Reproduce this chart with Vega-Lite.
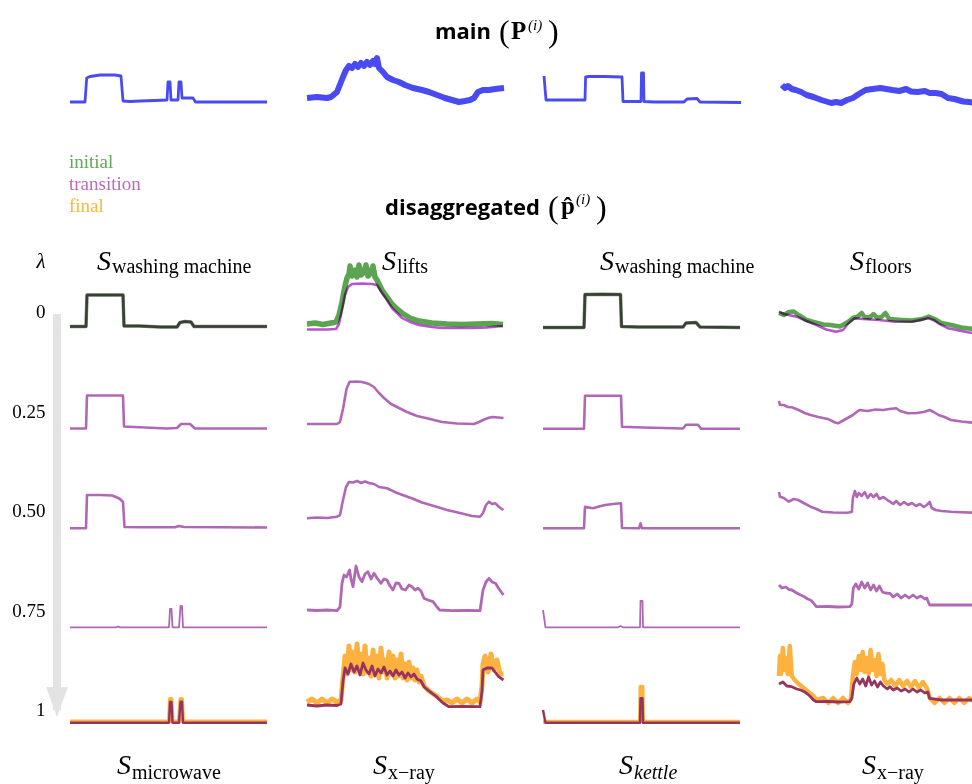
{
"$schema":"https://vega.github.io/schema/vega-lite/v6.json",
"padding":0,
"background":"white",
"spacing":0,
"config":{"view":{"stroke":null},"text":{"color":"black"}},
"datasets":{"lines":[
{"col":1,"s":"main","t":0,"v":8},{"col":1,"s":"main","t":15,"v":8},{"col":1,"s":"main","t":16.7,"v":32},{"col":1,"s":"main","t":20,"v":33.5},{"col":1,"s":"main","t":30,"v":35},{"col":1,"s":"main","t":45,"v":35},{"col":1,"s":"main","t":51,"v":34},{"col":1,"s":"main","t":53,"v":9},{"col":1,"s":"main","t":60,"v":8.5},{"col":1,"s":"main","t":70,"v":9},{"col":1,"s":"main","t":85,"v":9.5},{"col":1,"s":"main","t":97,"v":10},{"col":1,"s":"main","t":98,"v":28},{"col":1,"s":"main","t":100,"v":28},{"col":1,"s":"main","t":101,"v":10},{"col":1,"s":"main","t":108,"v":10},{"col":1,"s":"main","t":109,"v":28},{"col":1,"s":"main","t":111,"v":28},{"col":1,"s":"main","t":112,"v":12},{"col":1,"s":"main","t":123,"v":12},{"col":1,"s":"main","t":125.5,"v":8},{"col":1,"s":"main","t":197,"v":8},
{"col":2,"s":"main","t":0,"v":12},{"col":2,"s":"main","t":10,"v":13},{"col":2,"s":"main","t":20,"v":12},{"col":2,"s":"main","t":24,"v":13},{"col":2,"s":"main","t":30,"v":18},{"col":2,"s":"main","t":36,"v":33},{"col":2,"s":"main","t":39,"v":40},{"col":2,"s":"main","t":42,"v":44},{"col":2,"s":"main","t":45,"v":42},{"col":2,"s":"main","t":48,"v":46},{"col":2,"s":"main","t":51,"v":43},{"col":2,"s":"main","t":54,"v":47},{"col":2,"s":"main","t":57,"v":44},{"col":2,"s":"main","t":60,"v":48},{"col":2,"s":"main","t":63,"v":45},{"col":2,"s":"main","t":66,"v":49},{"col":2,"s":"main","t":68,"v":46},{"col":2,"s":"main","t":70,"v":52},{"col":2,"s":"main","t":72,"v":42},{"col":2,"s":"main","t":76,"v":38},{"col":2,"s":"main","t":80,"v":33},{"col":2,"s":"main","t":86,"v":30},{"col":2,"s":"main","t":92,"v":28},{"col":2,"s":"main","t":98,"v":25},{"col":2,"s":"main","t":106,"v":22},{"col":2,"s":"main","t":115,"v":20},{"col":2,"s":"main","t":122,"v":18},{"col":2,"s":"main","t":130,"v":15},{"col":2,"s":"main","t":138,"v":12},{"col":2,"s":"main","t":145,"v":10},{"col":2,"s":"main","t":152,"v":8},{"col":2,"s":"main","t":158,"v":9},{"col":2,"s":"main","t":163,"v":10},{"col":2,"s":"main","t":167,"v":12},{"col":2,"s":"main","t":171,"v":18},{"col":2,"s":"main","t":176,"v":20},{"col":2,"s":"main","t":182,"v":20},{"col":2,"s":"main","t":188,"v":21},{"col":2,"s":"main","t":197,"v":22},
{"col":3,"s":"main","t":0,"v":34},{"col":3,"s":"main","t":2,"v":10},{"col":3,"s":"main","t":8,"v":10},{"col":3,"s":"main","t":20,"v":10},{"col":3,"s":"main","t":41,"v":10},{"col":3,"s":"main","t":41.6,"v":33},{"col":3,"s":"main","t":45,"v":33.5},{"col":3,"s":"main","t":60,"v":33.5},{"col":3,"s":"main","t":78,"v":33},{"col":3,"s":"main","t":79,"v":8.5},{"col":3,"s":"main","t":85,"v":8.5},{"col":3,"s":"main","t":97,"v":8.5},{"col":3,"s":"main","t":97.5,"v":37},{"col":3,"s":"main","t":99.5,"v":37},{"col":3,"s":"main","t":100,"v":8.5},{"col":3,"s":"main","t":110,"v":8},{"col":3,"s":"main","t":140,"v":8},{"col":3,"s":"main","t":143,"v":11},{"col":3,"s":"main","t":153,"v":11.5},{"col":3,"s":"main","t":156,"v":8},{"col":3,"s":"main","t":197,"v":7.5},
{"col":4,"s":"main","t":0,"v":25},{"col":4,"s":"main","t":3,"v":22},{"col":4,"s":"main","t":6,"v":24},{"col":4,"s":"main","t":10,"v":21},{"col":4,"s":"main","t":14,"v":20},{"col":4,"s":"main","t":19.5,"v":18},{"col":4,"s":"main","t":25,"v":15},{"col":4,"s":"main","t":32,"v":13},{"col":4,"s":"main","t":40,"v":10},{"col":4,"s":"main","t":45,"v":8.5},{"col":4,"s":"main","t":50,"v":7},{"col":4,"s":"main","t":55,"v":8},{"col":4,"s":"main","t":60,"v":7},{"col":4,"s":"main","t":66,"v":10},{"col":4,"s":"main","t":72,"v":12},{"col":4,"s":"main","t":78,"v":16},{"col":4,"s":"main","t":85,"v":20},{"col":4,"s":"main","t":92,"v":21},{"col":4,"s":"main","t":100,"v":22},{"col":4,"s":"main","t":106,"v":21},{"col":4,"s":"main","t":112,"v":20},{"col":4,"s":"main","t":119,"v":19},{"col":4,"s":"main","t":126,"v":21},{"col":4,"s":"main","t":131,"v":18.5},{"col":4,"s":"main","t":137.5,"v":18},{"col":4,"s":"main","t":145,"v":19},{"col":4,"s":"main","t":150,"v":17},{"col":4,"s":"main","t":156,"v":17},{"col":4,"s":"main","t":162,"v":16},{"col":4,"s":"main","t":168.5,"v":12},{"col":4,"s":"main","t":175,"v":11},{"col":4,"s":"main","t":184,"v":8.5},{"col":4,"s":"main","t":190,"v":8},{"col":4,"s":"main","t":197,"v":7},

{"col":1,"lam":0,"s":"initial","t":0,"v":13.5},{"col":1,"lam":0,"s":"initial","t":16,"v":13.5},{"col":1,"lam":0,"s":"initial","t":17,"v":45},{"col":1,"lam":0,"s":"initial","t":30,"v":45},{"col":1,"lam":0,"s":"initial","t":53,"v":45},{"col":1,"lam":0,"s":"initial","t":54,"v":14},{"col":1,"lam":0,"s":"initial","t":70,"v":14},{"col":1,"lam":0,"s":"initial","t":90,"v":13},{"col":1,"lam":0,"s":"initial","t":107,"v":13},{"col":1,"lam":0,"s":"initial","t":110,"v":17.5},{"col":1,"lam":0,"s":"initial","t":115,"v":18.5},{"col":1,"lam":0,"s":"initial","t":121,"v":18},{"col":1,"lam":0,"s":"initial","t":124,"v":13.5},{"col":1,"lam":0,"s":"initial","t":197,"v":13.5},
{"col":1,"lam":0,"s":"transition","t":0,"v":13.5},{"col":1,"lam":0,"s":"transition","t":16,"v":13.5},{"col":1,"lam":0,"s":"transition","t":17,"v":45},{"col":1,"lam":0,"s":"transition","t":30,"v":45},{"col":1,"lam":0,"s":"transition","t":53,"v":45},{"col":1,"lam":0,"s":"transition","t":54,"v":14},{"col":1,"lam":0,"s":"transition","t":70,"v":14},{"col":1,"lam":0,"s":"transition","t":90,"v":13},{"col":1,"lam":0,"s":"transition","t":107,"v":13},{"col":1,"lam":0,"s":"transition","t":110,"v":17.5},{"col":1,"lam":0,"s":"transition","t":115,"v":18.5},{"col":1,"lam":0,"s":"transition","t":121,"v":18},{"col":1,"lam":0,"s":"transition","t":124,"v":13.5},{"col":1,"lam":0,"s":"transition","t":197,"v":13.5},
{"col":1,"lam":0.25,"s":"transition","t":0,"v":10.5},{"col":1,"lam":0.25,"s":"transition","t":16,"v":10.5},{"col":1,"lam":0.25,"s":"transition","t":17,"v":43.5},{"col":1,"lam":0.25,"s":"transition","t":53,"v":43.5},{"col":1,"lam":0.25,"s":"transition","t":54,"v":12.5},{"col":1,"lam":0.25,"s":"transition","t":75,"v":11.5},{"col":1,"lam":0.25,"s":"transition","t":97,"v":10.5},{"col":1,"lam":0.25,"s":"transition","t":107,"v":11},{"col":1,"lam":0.25,"s":"transition","t":111,"v":15},{"col":1,"lam":0.25,"s":"transition","t":120,"v":15},{"col":1,"lam":0.25,"s":"transition","t":125,"v":10.5},{"col":1,"lam":0.25,"s":"transition","t":197,"v":10.5},
{"col":1,"lam":0.5,"s":"transition","t":0,"v":9.7},{"col":1,"lam":0.5,"s":"transition","t":16,"v":9.7},{"col":1,"lam":0.5,"s":"transition","t":17,"v":43},{"col":1,"lam":0.5,"s":"transition","t":30,"v":43},{"col":1,"lam":0.5,"s":"transition","t":42,"v":42.5},{"col":1,"lam":0.5,"s":"transition","t":46,"v":41},{"col":1,"lam":0.5,"s":"transition","t":50,"v":39},{"col":1,"lam":0.5,"s":"transition","t":53,"v":36},{"col":1,"lam":0.5,"s":"transition","t":54.5,"v":11},{"col":1,"lam":0.5,"s":"transition","t":70,"v":10.7},{"col":1,"lam":0.5,"s":"transition","t":105,"v":10.7},{"col":1,"lam":0.5,"s":"transition","t":109,"v":12},{"col":1,"lam":0.5,"s":"transition","t":114,"v":11},{"col":1,"lam":0.5,"s":"transition","t":197,"v":10.5},
{"col":1,"lam":0.75,"s":"transition","t":0,"v":9.7},{"col":1,"lam":0.75,"s":"transition","t":46,"v":9.7},{"col":1,"lam":0.75,"s":"transition","t":48,"v":10.5},{"col":1,"lam":0.75,"s":"transition","t":50,"v":9.7},{"col":1,"lam":0.75,"s":"transition","t":99,"v":9.7},{"col":1,"lam":0.75,"s":"transition","t":100,"v":28},{"col":1,"lam":0.75,"s":"transition","t":101.5,"v":28},{"col":1,"lam":0.75,"s":"transition","t":102.5,"v":9.7},{"col":1,"lam":0.75,"s":"transition","t":109,"v":9.7},{"col":1,"lam":0.75,"s":"transition","t":110.5,"v":31},{"col":1,"lam":0.75,"s":"transition","t":112,"v":31},{"col":1,"lam":0.75,"s":"transition","t":113,"v":9.7},{"col":1,"lam":0.75,"s":"transition","t":197,"v":9.7},
{"col":1,"lam":1,"s":"final","t":0,"v":14.5},{"col":1,"lam":1,"s":"final","t":99,"v":14.5},{"col":1,"lam":1,"s":"final","t":100,"v":37},{"col":1,"lam":1,"s":"final","t":101.5,"v":37},{"col":1,"lam":1,"s":"final","t":102.5,"v":14.5},{"col":1,"lam":1,"s":"final","t":109,"v":14.5},{"col":1,"lam":1,"s":"final","t":110.5,"v":37},{"col":1,"lam":1,"s":"final","t":112,"v":37},{"col":1,"lam":1,"s":"final","t":113,"v":14.5},{"col":1,"lam":1,"s":"final","t":197,"v":14.5},
{"col":1,"lam":1,"s":"transition","t":0,"v":13.3},{"col":1,"lam":1,"s":"transition","t":99,"v":13.3},{"col":1,"lam":1,"s":"transition","t":100,"v":34},{"col":1,"lam":1,"s":"transition","t":101.5,"v":34},{"col":1,"lam":1,"s":"transition","t":102.5,"v":13.3},{"col":1,"lam":1,"s":"transition","t":109,"v":13.3},{"col":1,"lam":1,"s":"transition","t":110.5,"v":34.3},{"col":1,"lam":1,"s":"transition","t":112,"v":34.3},{"col":1,"lam":1,"s":"transition","t":113,"v":13.3},{"col":1,"lam":1,"s":"transition","t":197,"v":13.3},

{"col":2,"lam":0,"s":"initial","t":0,"v":16},{"col":2,"lam":0,"s":"initial","t":8,"v":17},{"col":2,"lam":0,"s":"initial","t":16,"v":15.5},{"col":2,"lam":0,"s":"initial","t":24,"v":17},{"col":2,"lam":0,"s":"initial","t":29,"v":18},{"col":2,"lam":0,"s":"initial","t":32,"v":25},{"col":2,"lam":0,"s":"initial","t":35,"v":38},{"col":2,"lam":0,"s":"initial","t":38,"v":54},{"col":2,"lam":0,"s":"initial","t":40,"v":62},{"col":2,"lam":0,"s":"initial","t":42,"v":66},{"col":2,"lam":0,"s":"initial","t":43,"v":74},{"col":2,"lam":0,"s":"initial","t":45,"v":64},{"col":2,"lam":0,"s":"initial","t":48,"v":70},{"col":2,"lam":0,"s":"initial","t":50,"v":63},{"col":2,"lam":0,"s":"initial","t":52,"v":75},{"col":2,"lam":0,"s":"initial","t":54,"v":65},{"col":2,"lam":0,"s":"initial","t":57,"v":68},{"col":2,"lam":0,"s":"initial","t":59,"v":75},{"col":2,"lam":0,"s":"initial","t":61,"v":64},{"col":2,"lam":0,"s":"initial","t":64,"v":67},{"col":2,"lam":0,"s":"initial","t":66,"v":74},{"col":2,"lam":0,"s":"initial","t":68,"v":63},{"col":2,"lam":0,"s":"initial","t":70,"v":60},{"col":2,"lam":0,"s":"initial","t":75,"v":50},{"col":2,"lam":0,"s":"initial","t":80,"v":43},{"col":2,"lam":0,"s":"initial","t":85,"v":36},{"col":2,"lam":0,"s":"initial","t":90,"v":31},{"col":2,"lam":0,"s":"initial","t":95,"v":27},{"col":2,"lam":0,"s":"initial","t":103,"v":22},{"col":2,"lam":0,"s":"initial","t":112,"v":19},{"col":2,"lam":0,"s":"initial","t":125,"v":17},{"col":2,"lam":0,"s":"initial","t":140,"v":16},{"col":2,"lam":0,"s":"initial","t":155,"v":15.5},{"col":2,"lam":0,"s":"initial","t":170,"v":16},{"col":2,"lam":0,"s":"initial","t":185,"v":16.5},{"col":2,"lam":0,"s":"initial","t":196,"v":15.5},
{"col":2,"lam":0,"s":"transition","t":0,"v":10.5},{"col":2,"lam":0,"s":"transition","t":20,"v":10.5},{"col":2,"lam":0,"s":"transition","t":29,"v":11},{"col":2,"lam":0,"s":"transition","t":32,"v":16},{"col":2,"lam":0,"s":"transition","t":35,"v":30},{"col":2,"lam":0,"s":"transition","t":38,"v":45},{"col":2,"lam":0,"s":"transition","t":41,"v":53},{"col":2,"lam":0,"s":"transition","t":45,"v":56},{"col":2,"lam":0,"s":"transition","t":55,"v":56.5},{"col":2,"lam":0,"s":"transition","t":65,"v":56},{"col":2,"lam":0,"s":"transition","t":70,"v":55},{"col":2,"lam":0,"s":"transition","t":75,"v":47},{"col":2,"lam":0,"s":"transition","t":80,"v":40},{"col":2,"lam":0,"s":"transition","t":85,"v":32},{"col":2,"lam":0,"s":"transition","t":90,"v":27},{"col":2,"lam":0,"s":"transition","t":95,"v":22},{"col":2,"lam":0,"s":"transition","t":103,"v":18},{"col":2,"lam":0,"s":"transition","t":112,"v":15},{"col":2,"lam":0,"s":"transition","t":125,"v":13},{"col":2,"lam":0,"s":"transition","t":135,"v":12},{"col":2,"lam":0,"s":"transition","t":150,"v":12},{"col":2,"lam":0,"s":"transition","t":165,"v":12},{"col":2,"lam":0,"s":"transition","t":180,"v":12.5},{"col":2,"lam":0,"s":"transition","t":190,"v":13.5},{"col":2,"lam":0,"s":"transition","t":196,"v":14},
{"col":2,"lam":0.25,"s":"transition","t":0,"v":15},{"col":2,"lam":0.25,"s":"transition","t":15,"v":15},{"col":2,"lam":0.25,"s":"transition","t":30,"v":15},{"col":2,"lam":0.25,"s":"transition","t":33,"v":17},{"col":2,"lam":0.25,"s":"transition","t":36,"v":30},{"col":2,"lam":0.25,"s":"transition","t":39.5,"v":50},{"col":2,"lam":0.25,"s":"transition","t":42.6,"v":57.3},{"col":2,"lam":0.25,"s":"transition","t":50,"v":57.5},{"col":2,"lam":0.25,"s":"transition","t":55,"v":57},{"col":2,"lam":0.25,"s":"transition","t":62,"v":55},{"col":2,"lam":0.25,"s":"transition","t":67,"v":52},{"col":2,"lam":0.25,"s":"transition","t":72,"v":46},{"col":2,"lam":0.25,"s":"transition","t":77,"v":41},{"col":2,"lam":0.25,"s":"transition","t":84,"v":35},{"col":2,"lam":0.25,"s":"transition","t":92,"v":31},{"col":2,"lam":0.25,"s":"transition","t":100,"v":27},{"col":2,"lam":0.25,"s":"transition","t":110,"v":23},{"col":2,"lam":0.25,"s":"transition","t":123,"v":20},{"col":2,"lam":0.25,"s":"transition","t":135,"v":17},{"col":2,"lam":0.25,"s":"transition","t":150,"v":15.5},{"col":2,"lam":0.25,"s":"transition","t":167,"v":15},{"col":2,"lam":0.25,"s":"transition","t":172,"v":17},{"col":2,"lam":0.25,"s":"transition","t":176,"v":19},{"col":2,"lam":0.25,"s":"transition","t":181,"v":21},{"col":2,"lam":0.25,"s":"transition","t":185,"v":22},{"col":2,"lam":0.25,"s":"transition","t":191,"v":21.5},{"col":2,"lam":0.25,"s":"transition","t":196.5,"v":21},
{"col":2,"lam":0.5,"s":"transition","t":0,"v":19.7},{"col":2,"lam":0.5,"s":"transition","t":10,"v":20.5},{"col":2,"lam":0.5,"s":"transition","t":20,"v":20},{"col":2,"lam":0.5,"s":"transition","t":30,"v":21.3},{"col":2,"lam":0.5,"s":"transition","t":33,"v":23},{"col":2,"lam":0.5,"s":"transition","t":36,"v":38},{"col":2,"lam":0.5,"s":"transition","t":39,"v":51},{"col":2,"lam":0.5,"s":"transition","t":42,"v":56},{"col":2,"lam":0.5,"s":"transition","t":46,"v":55.5},{"col":2,"lam":0.5,"s":"transition","t":50,"v":57},{"col":2,"lam":0.5,"s":"transition","t":54,"v":55},{"col":2,"lam":0.5,"s":"transition","t":58,"v":56.5},{"col":2,"lam":0.5,"s":"transition","t":62,"v":55},{"col":2,"lam":0.5,"s":"transition","t":67,"v":54},{"col":2,"lam":0.5,"s":"transition","t":72,"v":51},{"col":2,"lam":0.5,"s":"transition","t":80,"v":49.7},{"col":2,"lam":0.5,"s":"transition","t":90,"v":45},{"col":2,"lam":0.5,"s":"transition","t":104.7,"v":39.7},{"col":2,"lam":0.5,"s":"transition","t":115,"v":35.5},{"col":2,"lam":0.5,"s":"transition","t":129.5,"v":31.3},{"col":2,"lam":0.5,"s":"transition","t":140,"v":28},{"col":2,"lam":0.5,"s":"transition","t":154,"v":24.7},{"col":2,"lam":0.5,"s":"transition","t":165,"v":22},{"col":2,"lam":0.5,"s":"transition","t":173,"v":21.3},{"col":2,"lam":0.5,"s":"transition","t":176,"v":25},{"col":2,"lam":0.5,"s":"transition","t":179,"v":33},{"col":2,"lam":0.5,"s":"transition","t":182,"v":36.3},{"col":2,"lam":0.5,"s":"transition","t":185,"v":34},{"col":2,"lam":0.5,"s":"transition","t":188.5,"v":34.7},{"col":2,"lam":0.5,"s":"transition","t":192,"v":31},{"col":2,"lam":0.5,"s":"transition","t":196.5,"v":28},
{"col":2,"lam":0.75,"s":"transition","t":0,"v":27},{"col":2,"lam":0.75,"s":"transition","t":10,"v":26.5},{"col":2,"lam":0.75,"s":"transition","t":20,"v":27},{"col":2,"lam":0.75,"s":"transition","t":30,"v":26.3},{"col":2,"lam":0.75,"s":"transition","t":33,"v":30},{"col":2,"lam":0.75,"s":"transition","t":35,"v":53.7},{"col":2,"lam":0.75,"s":"transition","t":37,"v":62},{"col":2,"lam":0.75,"s":"transition","t":39.5,"v":60},{"col":2,"lam":0.75,"s":"transition","t":42.6,"v":67},{"col":2,"lam":0.75,"s":"transition","t":44,"v":58},{"col":2,"lam":0.75,"s":"transition","t":46,"v":50.3},{"col":2,"lam":0.75,"s":"transition","t":49,"v":71},{"col":2,"lam":0.75,"s":"transition","t":52,"v":60},{"col":2,"lam":0.75,"s":"transition","t":55,"v":55.3},{"col":2,"lam":0.75,"s":"transition","t":58,"v":63},{"col":2,"lam":0.75,"s":"transition","t":61,"v":65.3},{"col":2,"lam":0.75,"s":"transition","t":64,"v":58},{"col":2,"lam":0.75,"s":"transition","t":67,"v":63.7},{"col":2,"lam":0.75,"s":"transition","t":70,"v":59},{"col":2,"lam":0.75,"s":"transition","t":74,"v":53.7},{"col":2,"lam":0.75,"s":"transition","t":77,"v":58},{"col":2,"lam":0.75,"s":"transition","t":80,"v":57},{"col":2,"lam":0.75,"s":"transition","t":83,"v":51},{"col":2,"lam":0.75,"s":"transition","t":86,"v":47},{"col":2,"lam":0.75,"s":"transition","t":89,"v":54},{"col":2,"lam":0.75,"s":"transition","t":92,"v":53.7},{"col":2,"lam":0.75,"s":"transition","t":95,"v":48},{"col":2,"lam":0.75,"s":"transition","t":98.5,"v":47},{"col":2,"lam":0.75,"s":"transition","t":102,"v":52},{"col":2,"lam":0.75,"s":"transition","t":105,"v":50.3},{"col":2,"lam":0.75,"s":"transition","t":108,"v":47},{"col":2,"lam":0.75,"s":"transition","t":111,"v":48.7},{"col":2,"lam":0.75,"s":"transition","t":114,"v":46},{"col":2,"lam":0.75,"s":"transition","t":117,"v":38.7},{"col":2,"lam":0.75,"s":"transition","t":121,"v":37},{"col":2,"lam":0.75,"s":"transition","t":126,"v":35.3},{"col":2,"lam":0.75,"s":"transition","t":130,"v":30},{"col":2,"lam":0.75,"s":"transition","t":132.6,"v":27},{"col":2,"lam":0.75,"s":"transition","t":145,"v":26.3},{"col":2,"lam":0.75,"s":"transition","t":160,"v":26.5},{"col":2,"lam":0.75,"s":"transition","t":173,"v":26.3},{"col":2,"lam":0.75,"s":"transition","t":176,"v":47},{"col":2,"lam":0.75,"s":"transition","t":179,"v":55},{"col":2,"lam":0.75,"s":"transition","t":182,"v":58.7},{"col":2,"lam":0.75,"s":"transition","t":185,"v":55},{"col":2,"lam":0.75,"s":"transition","t":188.5,"v":53.7},{"col":2,"lam":0.75,"s":"transition","t":192,"v":48},{"col":2,"lam":0.75,"s":"transition","t":196.5,"v":42},
{"col":2,"lam":1,"s":"final","t":0,"v":34},{"col":2,"lam":1,"s":"final","t":5,"v":37},{"col":2,"lam":1,"s":"final","t":10,"v":33},{"col":2,"lam":1,"s":"final","t":15,"v":37},{"col":2,"lam":1,"s":"final","t":20,"v":33},{"col":2,"lam":1,"s":"final","t":25,"v":37},{"col":2,"lam":1,"s":"final","t":30,"v":34},{"col":2,"lam":1,"s":"final","t":34,"v":36},{"col":2,"lam":1,"s":"final","t":36,"v":58},{"col":2,"lam":1,"s":"final","t":38,"v":80},{"col":2,"lam":1,"s":"final","t":40,"v":62},{"col":2,"lam":1,"s":"final","t":42,"v":90},{"col":2,"lam":1,"s":"final","t":44,"v":66},{"col":2,"lam":1,"s":"final","t":46,"v":84},{"col":2,"lam":1,"s":"final","t":48,"v":64},{"col":2,"lam":1,"s":"final","t":50,"v":92},{"col":2,"lam":1,"s":"final","t":52,"v":68},{"col":2,"lam":1,"s":"final","t":54,"v":82},{"col":2,"lam":1,"s":"final","t":56,"v":62},{"col":2,"lam":1,"s":"final","t":58,"v":90},{"col":2,"lam":1,"s":"final","t":60,"v":64},{"col":2,"lam":1,"s":"final","t":62,"v":78},{"col":2,"lam":1,"s":"final","t":64,"v":60},{"col":2,"lam":1,"s":"final","t":66,"v":86},{"col":2,"lam":1,"s":"final","t":68,"v":62},{"col":2,"lam":1,"s":"final","t":70,"v":80},{"col":2,"lam":1,"s":"final","t":72,"v":58},{"col":2,"lam":1,"s":"final","t":74,"v":88},{"col":2,"lam":1,"s":"final","t":76,"v":64},{"col":2,"lam":1,"s":"final","t":78,"v":76},{"col":2,"lam":1,"s":"final","t":80,"v":58},{"col":2,"lam":1,"s":"final","t":82,"v":84},{"col":2,"lam":1,"s":"final","t":84,"v":62},{"col":2,"lam":1,"s":"final","t":86,"v":80},{"col":2,"lam":1,"s":"final","t":88,"v":58},{"col":2,"lam":1,"s":"final","t":90,"v":76},{"col":2,"lam":1,"s":"final","t":92,"v":60},{"col":2,"lam":1,"s":"final","t":94,"v":82},{"col":2,"lam":1,"s":"final","t":96,"v":58},{"col":2,"lam":1,"s":"final","t":98,"v":72},{"col":2,"lam":1,"s":"final","t":100,"v":56},{"col":2,"lam":1,"s":"final","t":102,"v":74},{"col":2,"lam":1,"s":"final","t":104,"v":58},{"col":2,"lam":1,"s":"final","t":106,"v":68},{"col":2,"lam":1,"s":"final","t":108,"v":56},{"col":2,"lam":1,"s":"final","t":110,"v":66},{"col":2,"lam":1,"s":"final","t":112,"v":54},{"col":2,"lam":1,"s":"final","t":114,"v":60},{"col":2,"lam":1,"s":"final","t":117,"v":50},{"col":2,"lam":1,"s":"final","t":122,"v":45},{"col":2,"lam":1,"s":"final","t":129.5,"v":40},{"col":2,"lam":1,"s":"final","t":136,"v":35},{"col":2,"lam":1,"s":"final","t":140,"v":36},{"col":2,"lam":1,"s":"final","t":145,"v":33},{"col":2,"lam":1,"s":"final","t":150,"v":37},{"col":2,"lam":1,"s":"final","t":155,"v":33},{"col":2,"lam":1,"s":"final","t":160,"v":37},{"col":2,"lam":1,"s":"final","t":165,"v":33},{"col":2,"lam":1,"s":"final","t":170,"v":37},{"col":2,"lam":1,"s":"final","t":173,"v":34},{"col":2,"lam":1,"s":"final","t":175,"v":50},{"col":2,"lam":1,"s":"final","t":176,"v":72},{"col":2,"lam":1,"s":"final","t":178,"v":80},{"col":2,"lam":1,"s":"final","t":181,"v":64},{"col":2,"lam":1,"s":"final","t":184,"v":82},{"col":2,"lam":1,"s":"final","t":187,"v":66},{"col":2,"lam":1,"s":"final","t":190,"v":76},{"col":2,"lam":1,"s":"final","t":193,"v":62},{"col":2,"lam":1,"s":"final","t":196.5,"v":62},
{"col":2,"lam":1,"s":"transition","t":0,"v":31},{"col":2,"lam":1,"s":"transition","t":10,"v":30},{"col":2,"lam":1,"s":"transition","t":20,"v":31},{"col":2,"lam":1,"s":"transition","t":30,"v":30.5},{"col":2,"lam":1,"s":"transition","t":34,"v":32},{"col":2,"lam":1,"s":"transition","t":36,"v":55},{"col":2,"lam":1,"s":"transition","t":38,"v":68},{"col":2,"lam":1,"s":"transition","t":41,"v":62},{"col":2,"lam":1,"s":"transition","t":44,"v":72},{"col":2,"lam":1,"s":"transition","t":47,"v":64},{"col":2,"lam":1,"s":"transition","t":50,"v":70},{"col":2,"lam":1,"s":"transition","t":53,"v":61},{"col":2,"lam":1,"s":"transition","t":56,"v":73},{"col":2,"lam":1,"s":"transition","t":59,"v":66},{"col":2,"lam":1,"s":"transition","t":62,"v":62},{"col":2,"lam":1,"s":"transition","t":65,"v":70},{"col":2,"lam":1,"s":"transition","t":68,"v":60},{"col":2,"lam":1,"s":"transition","t":71,"v":67},{"col":2,"lam":1,"s":"transition","t":74,"v":63},{"col":2,"lam":1,"s":"transition","t":77,"v":69},{"col":2,"lam":1,"s":"transition","t":80,"v":61},{"col":2,"lam":1,"s":"transition","t":83,"v":65},{"col":2,"lam":1,"s":"transition","t":86,"v":60},{"col":2,"lam":1,"s":"transition","t":89,"v":66},{"col":2,"lam":1,"s":"transition","t":92,"v":61},{"col":2,"lam":1,"s":"transition","t":95,"v":64},{"col":2,"lam":1,"s":"transition","t":98,"v":58},{"col":2,"lam":1,"s":"transition","t":101,"v":63},{"col":2,"lam":1,"s":"transition","t":104,"v":59},{"col":2,"lam":1,"s":"transition","t":107,"v":62},{"col":2,"lam":1,"s":"transition","t":110,"v":57},{"col":2,"lam":1,"s":"transition","t":114,"v":55},{"col":2,"lam":1,"s":"transition","t":117,"v":49.3},{"col":2,"lam":1,"s":"transition","t":122,"v":45},{"col":2,"lam":1,"s":"transition","t":129.5,"v":39.3},{"col":2,"lam":1,"s":"transition","t":136,"v":33},{"col":2,"lam":1,"s":"transition","t":142,"v":29.3},{"col":2,"lam":1,"s":"transition","t":155,"v":29.5},{"col":2,"lam":1,"s":"transition","t":173,"v":29.3},{"col":2,"lam":1,"s":"transition","t":175,"v":45},{"col":2,"lam":1,"s":"transition","t":176,"v":66},{"col":2,"lam":1,"s":"transition","t":180,"v":68},{"col":2,"lam":1,"s":"transition","t":185,"v":68},{"col":2,"lam":1,"s":"transition","t":191.6,"v":59.3},{"col":2,"lam":1,"s":"transition","t":196.5,"v":56},

{"col":3,"lam":0,"s":"initial","t":0,"v":12.5},{"col":3,"lam":0,"s":"initial","t":20,"v":12.5},{"col":3,"lam":0,"s":"initial","t":41,"v":12.5},{"col":3,"lam":0,"s":"initial","t":42,"v":45.5},{"col":3,"lam":0,"s":"initial","t":60,"v":45.7},{"col":3,"lam":0,"s":"initial","t":77.5,"v":45.5},{"col":3,"lam":0,"s":"initial","t":78.5,"v":13.5},{"col":3,"lam":0,"s":"initial","t":95,"v":13},{"col":3,"lam":0,"s":"initial","t":120,"v":13},{"col":3,"lam":0,"s":"initial","t":140,"v":13},{"col":3,"lam":0,"s":"initial","t":143,"v":17},{"col":3,"lam":0,"s":"initial","t":153,"v":17.5},{"col":3,"lam":0,"s":"initial","t":157,"v":13},{"col":3,"lam":0,"s":"initial","t":197,"v":12.5},
{"col":3,"lam":0,"s":"transition","t":0,"v":12.5},{"col":3,"lam":0,"s":"transition","t":20,"v":12.5},{"col":3,"lam":0,"s":"transition","t":41,"v":12.5},{"col":3,"lam":0,"s":"transition","t":42,"v":45.5},{"col":3,"lam":0,"s":"transition","t":60,"v":45.7},{"col":3,"lam":0,"s":"transition","t":77.5,"v":45.5},{"col":3,"lam":0,"s":"transition","t":78.5,"v":13.5},{"col":3,"lam":0,"s":"transition","t":95,"v":13},{"col":3,"lam":0,"s":"transition","t":120,"v":13},{"col":3,"lam":0,"s":"transition","t":140,"v":13},{"col":3,"lam":0,"s":"transition","t":143,"v":17},{"col":3,"lam":0,"s":"transition","t":153,"v":17.5},{"col":3,"lam":0,"s":"transition","t":157,"v":13},{"col":3,"lam":0,"s":"transition","t":197,"v":12.5},
{"col":3,"lam":0.25,"s":"transition","t":0,"v":10.3},{"col":3,"lam":0.25,"s":"transition","t":41,"v":10.3},{"col":3,"lam":0.25,"s":"transition","t":42,"v":43.3},{"col":3,"lam":0.25,"s":"transition","t":78,"v":43.3},{"col":3,"lam":0.25,"s":"transition","t":79,"v":12.3},{"col":3,"lam":0.25,"s":"transition","t":100,"v":11.5},{"col":3,"lam":0.25,"s":"transition","t":140,"v":10.5},{"col":3,"lam":0.25,"s":"transition","t":143,"v":14.3},{"col":3,"lam":0.25,"s":"transition","t":155,"v":14.3},{"col":3,"lam":0.25,"s":"transition","t":158,"v":10.3},{"col":3,"lam":0.25,"s":"transition","t":197,"v":10.3},
{"col":3,"lam":0.5,"s":"transition","t":0,"v":9.7},{"col":3,"lam":0.5,"s":"transition","t":41,"v":9.7},{"col":3,"lam":0.5,"s":"transition","t":42,"v":31.3},{"col":3,"lam":0.5,"s":"transition","t":46,"v":30.5},{"col":3,"lam":0.5,"s":"transition","t":50,"v":29.7},{"col":3,"lam":0.5,"s":"transition","t":56,"v":31.5},{"col":3,"lam":0.5,"s":"transition","t":62,"v":33},{"col":3,"lam":0.5,"s":"transition","t":70,"v":34},{"col":3,"lam":0.5,"s":"transition","t":78,"v":34.7},{"col":3,"lam":0.5,"s":"transition","t":79,"v":10},{"col":3,"lam":0.5,"s":"transition","t":96,"v":9.7},{"col":3,"lam":0.5,"s":"transition","t":97.5,"v":14.7},{"col":3,"lam":0.5,"s":"transition","t":99,"v":9.7},{"col":3,"lam":0.5,"s":"transition","t":197,"v":9.7},
{"col":3,"lam":0.75,"s":"transition","t":0,"v":27},{"col":3,"lam":0.75,"s":"transition","t":2.5,"v":9.7},{"col":3,"lam":0.75,"s":"transition","t":75,"v":9.7},{"col":3,"lam":0.75,"s":"transition","t":77.6,"v":11},{"col":3,"lam":0.75,"s":"transition","t":80,"v":9.7},{"col":3,"lam":0.75,"s":"transition","t":97,"v":9.7},{"col":3,"lam":0.75,"s":"transition","t":97.5,"v":36},{"col":3,"lam":0.75,"s":"transition","t":99.5,"v":36},{"col":3,"lam":0.75,"s":"transition","t":100,"v":9.7},{"col":3,"lam":0.75,"s":"transition","t":197,"v":9.7},
{"col":3,"lam":1,"s":"final","t":0,"v":14.3},{"col":3,"lam":1,"s":"final","t":97,"v":14.3},{"col":3,"lam":1,"s":"final","t":97.5,"v":49.3},{"col":3,"lam":1,"s":"final","t":99.5,"v":49.3},{"col":3,"lam":1,"s":"final","t":100,"v":14.3},{"col":3,"lam":1,"s":"final","t":197,"v":14.3},
{"col":3,"lam":1,"s":"transition","t":0,"v":26},{"col":3,"lam":1,"s":"transition","t":2.5,"v":13.3},{"col":3,"lam":1,"s":"transition","t":97,"v":13.3},{"col":3,"lam":1,"s":"transition","t":97.5,"v":37.7},{"col":3,"lam":1,"s":"transition","t":99.5,"v":37.7},{"col":3,"lam":1,"s":"transition","t":100,"v":13.3},{"col":3,"lam":1,"s":"transition","t":197,"v":13.3},

{"col":4,"lam":0,"s":"initial","t":0,"v":27},{"col":4,"lam":0,"s":"initial","t":5,"v":25},{"col":4,"lam":0,"s":"initial","t":10,"v":28},{"col":4,"lam":0,"s":"initial","t":15,"v":28.5},{"col":4,"lam":0,"s":"initial","t":20,"v":25},{"col":4,"lam":0,"s":"initial","t":28,"v":20},{"col":4,"lam":0,"s":"initial","t":35,"v":18},{"col":4,"lam":0,"s":"initial","t":45,"v":15.5},{"col":4,"lam":0,"s":"initial","t":52,"v":15},{"col":4,"lam":0,"s":"initial","t":62,"v":13.5},{"col":4,"lam":0,"s":"initial","t":70,"v":18},{"col":4,"lam":0,"s":"initial","t":75,"v":22},{"col":4,"lam":0,"s":"initial","t":80,"v":23.5},{"col":4,"lam":0,"s":"initial","t":84,"v":27},{"col":4,"lam":0,"s":"initial","t":87,"v":23},{"col":4,"lam":0,"s":"initial","t":92,"v":22.5},{"col":4,"lam":0,"s":"initial","t":96,"v":26},{"col":4,"lam":0,"s":"initial","t":100,"v":22},{"col":4,"lam":0,"s":"initial","t":104,"v":23},{"col":4,"lam":0,"s":"initial","t":108,"v":27},{"col":4,"lam":0,"s":"initial","t":112,"v":21},{"col":4,"lam":0,"s":"initial","t":118,"v":20.5},{"col":4,"lam":0,"s":"initial","t":125,"v":20},{"col":4,"lam":0,"s":"initial","t":135,"v":19.5},{"col":4,"lam":0,"s":"initial","t":145,"v":21},{"col":4,"lam":0,"s":"initial","t":152,"v":23.5},{"col":4,"lam":0,"s":"initial","t":158,"v":21},{"col":4,"lam":0,"s":"initial","t":165,"v":17},{"col":4,"lam":0,"s":"initial","t":175,"v":15},{"col":4,"lam":0,"s":"initial","t":185,"v":12.5},{"col":4,"lam":0,"s":"initial","t":197,"v":11},
{"col":4,"lam":0,"s":"transition","t":0,"v":28.3},{"col":4,"lam":0,"s":"transition","t":5,"v":26},{"col":4,"lam":0,"s":"transition","t":18,"v":23.3},{"col":4,"lam":0,"s":"transition","t":28,"v":19},{"col":4,"lam":0,"s":"transition","t":38,"v":15},{"col":4,"lam":0,"s":"transition","t":48,"v":10.5},{"col":4,"lam":0,"s":"transition","t":58,"v":8.3},{"col":4,"lam":0,"s":"transition","t":65,"v":10},{"col":4,"lam":0,"s":"transition","t":70,"v":16},{"col":4,"lam":0,"s":"transition","t":76.7,"v":21.7},{"col":4,"lam":0,"s":"transition","t":85,"v":21},{"col":4,"lam":0,"s":"transition","t":101.7,"v":20},{"col":4,"lam":0,"s":"transition","t":118,"v":18.3},{"col":4,"lam":0,"s":"transition","t":135,"v":18.3},{"col":4,"lam":0,"s":"transition","t":151.7,"v":21.7},{"col":4,"lam":0,"s":"transition","t":158,"v":19.5},{"col":4,"lam":0,"s":"transition","t":161.7,"v":16.7},{"col":4,"lam":0,"s":"transition","t":171.7,"v":11.7},{"col":4,"lam":0,"s":"transition","t":185,"v":9},{"col":4,"lam":0,"s":"transition","t":197,"v":6.7},
{"col":4,"lam":0.25,"s":"transition","t":0,"v":38},{"col":4,"lam":0.25,"s":"transition","t":1,"v":34},{"col":4,"lam":0.25,"s":"transition","t":5,"v":34},{"col":4,"lam":0.25,"s":"transition","t":9,"v":32},{"col":4,"lam":0.25,"s":"transition","t":13,"v":31.7},{"col":4,"lam":0.25,"s":"transition","t":20,"v":29},{"col":4,"lam":0.25,"s":"transition","t":26,"v":26},{"col":4,"lam":0.25,"s":"transition","t":32,"v":24},{"col":4,"lam":0.25,"s":"transition","t":40,"v":22},{"col":4,"lam":0.25,"s":"transition","t":50.6,"v":19.7},{"col":4,"lam":0.25,"s":"transition","t":57,"v":16.5},{"col":4,"lam":0.25,"s":"transition","t":60,"v":15.7},{"col":4,"lam":0.25,"s":"transition","t":66,"v":19},{"col":4,"lam":0.25,"s":"transition","t":75,"v":24},{"col":4,"lam":0.25,"s":"transition","t":81.6,"v":29},{"col":4,"lam":0.25,"s":"transition","t":90,"v":28},{"col":4,"lam":0.25,"s":"transition","t":98,"v":29.5},{"col":4,"lam":0.25,"s":"transition","t":106,"v":29},{"col":4,"lam":0.25,"s":"transition","t":112,"v":30},{"col":4,"lam":0.25,"s":"transition","t":119,"v":30.7},{"col":4,"lam":0.25,"s":"transition","t":123,"v":28},{"col":4,"lam":0.25,"s":"transition","t":131,"v":25.7},{"col":4,"lam":0.25,"s":"transition","t":140,"v":26},{"col":4,"lam":0.25,"s":"transition","t":147,"v":27},{"col":4,"lam":0.25,"s":"transition","t":153,"v":29},{"col":4,"lam":0.25,"s":"transition","t":157,"v":27},{"col":4,"lam":0.25,"s":"transition","t":162,"v":24},{"col":4,"lam":0.25,"s":"transition","t":168,"v":22},{"col":4,"lam":0.25,"s":"transition","t":174.7,"v":19},{"col":4,"lam":0.25,"s":"transition","t":185,"v":17.5},{"col":4,"lam":0.25,"s":"transition","t":197,"v":16.3},
{"col":4,"lam":0.5,"s":"transition","t":0,"v":46},{"col":4,"lam":0.5,"s":"transition","t":1,"v":41.3},{"col":4,"lam":0.5,"s":"transition","t":5,"v":40},{"col":4,"lam":0.5,"s":"transition","t":10,"v":36.3},{"col":4,"lam":0.5,"s":"transition","t":15,"v":39},{"col":4,"lam":0.5,"s":"transition","t":19.5,"v":38},{"col":4,"lam":0.5,"s":"transition","t":25,"v":35},{"col":4,"lam":0.5,"s":"transition","t":32,"v":31.3},{"col":4,"lam":0.5,"s":"transition","t":38,"v":29},{"col":4,"lam":0.5,"s":"transition","t":44,"v":26.3},{"col":4,"lam":0.5,"s":"transition","t":55,"v":25.5},{"col":4,"lam":0.5,"s":"transition","t":69,"v":25.3},{"col":4,"lam":0.5,"s":"transition","t":74,"v":26},{"col":4,"lam":0.5,"s":"transition","t":75,"v":40},{"col":4,"lam":0.5,"s":"transition","t":77,"v":47},{"col":4,"lam":0.5,"s":"transition","t":79,"v":41},{"col":4,"lam":0.5,"s":"transition","t":81,"v":45},{"col":4,"lam":0.5,"s":"transition","t":84,"v":42},{"col":4,"lam":0.5,"s":"transition","t":87,"v":46},{"col":4,"lam":0.5,"s":"transition","t":90,"v":40},{"col":4,"lam":0.5,"s":"transition","t":93,"v":44},{"col":4,"lam":0.5,"s":"transition","t":96,"v":41},{"col":4,"lam":0.5,"s":"transition","t":99,"v":44},{"col":4,"lam":0.5,"s":"transition","t":102,"v":39},{"col":4,"lam":0.5,"s":"transition","t":106,"v":41},{"col":4,"lam":0.5,"s":"transition","t":110,"v":38},{"col":4,"lam":0.5,"s":"transition","t":112.6,"v":36.3},{"col":4,"lam":0.5,"s":"transition","t":116,"v":34},{"col":4,"lam":0.5,"s":"transition","t":119,"v":37},{"col":4,"lam":0.5,"s":"transition","t":123,"v":33},{"col":4,"lam":0.5,"s":"transition","t":127,"v":36},{"col":4,"lam":0.5,"s":"transition","t":131,"v":33},{"col":4,"lam":0.5,"s":"transition","t":135,"v":35},{"col":4,"lam":0.5,"s":"transition","t":139,"v":32},{"col":4,"lam":0.5,"s":"transition","t":143,"v":34},{"col":4,"lam":0.5,"s":"transition","t":147,"v":31},{"col":4,"lam":0.5,"s":"transition","t":150,"v":33},{"col":4,"lam":0.5,"s":"transition","t":153,"v":36},{"col":4,"lam":0.5,"s":"transition","t":155,"v":30},{"col":4,"lam":0.5,"s":"transition","t":159,"v":28},{"col":4,"lam":0.5,"s":"transition","t":165,"v":27},{"col":4,"lam":0.5,"s":"transition","t":174.7,"v":26.3},{"col":4,"lam":0.5,"s":"transition","t":185,"v":25.8},{"col":4,"lam":0.5,"s":"transition","t":197,"v":25.3},
{"col":4,"lam":0.75,"s":"transition","t":0,"v":52},{"col":4,"lam":0.75,"s":"transition","t":3,"v":49},{"col":4,"lam":0.75,"s":"transition","t":7,"v":50},{"col":4,"lam":0.75,"s":"transition","t":10,"v":47.5},{"col":4,"lam":0.75,"s":"transition","t":13,"v":47},{"col":4,"lam":0.75,"s":"transition","t":18,"v":44},{"col":4,"lam":0.75,"s":"transition","t":22,"v":42},{"col":4,"lam":0.75,"s":"transition","t":25.7,"v":40.3},{"col":4,"lam":0.75,"s":"transition","t":29,"v":38},{"col":4,"lam":0.75,"s":"transition","t":32,"v":37},{"col":4,"lam":0.75,"s":"transition","t":35,"v":34},{"col":4,"lam":0.75,"s":"transition","t":38,"v":30.3},{"col":4,"lam":0.75,"s":"transition","t":50,"v":30.5},{"col":4,"lam":0.75,"s":"transition","t":60,"v":30},{"col":4,"lam":0.75,"s":"transition","t":72,"v":30.3},{"col":4,"lam":0.75,"s":"transition","t":74,"v":33},{"col":4,"lam":0.75,"s":"transition","t":75.5,"v":49},{"col":4,"lam":0.75,"s":"transition","t":78,"v":53},{"col":4,"lam":0.75,"s":"transition","t":81,"v":48},{"col":4,"lam":0.75,"s":"transition","t":84,"v":55},{"col":4,"lam":0.75,"s":"transition","t":87,"v":49},{"col":4,"lam":0.75,"s":"transition","t":90,"v":54},{"col":4,"lam":0.75,"s":"transition","t":93,"v":47},{"col":4,"lam":0.75,"s":"transition","t":96,"v":52},{"col":4,"lam":0.75,"s":"transition","t":99,"v":46},{"col":4,"lam":0.75,"s":"transition","t":102,"v":51},{"col":4,"lam":0.75,"s":"transition","t":105,"v":45},{"col":4,"lam":0.75,"s":"transition","t":108,"v":44},{"col":4,"lam":0.75,"s":"transition","t":112.6,"v":43.7},{"col":4,"lam":0.75,"s":"transition","t":116,"v":40},{"col":4,"lam":0.75,"s":"transition","t":120,"v":43},{"col":4,"lam":0.75,"s":"transition","t":124,"v":39},{"col":4,"lam":0.75,"s":"transition","t":128,"v":42},{"col":4,"lam":0.75,"s":"transition","t":132,"v":39},{"col":4,"lam":0.75,"s":"transition","t":136,"v":42},{"col":4,"lam":0.75,"s":"transition","t":140,"v":39},{"col":4,"lam":0.75,"s":"transition","t":144,"v":41},{"col":4,"lam":0.75,"s":"transition","t":148,"v":38},{"col":4,"lam":0.75,"s":"transition","t":150,"v":39},{"col":4,"lam":0.75,"s":"transition","t":152,"v":34},{"col":4,"lam":0.75,"s":"transition","t":153,"v":32},{"col":4,"lam":0.75,"s":"transition","t":165,"v":32},{"col":4,"lam":0.75,"s":"transition","t":180,"v":32},{"col":4,"lam":0.75,"s":"transition","t":197,"v":32},
{"col":4,"lam":1,"s":"final","t":0,"v":60},{"col":4,"lam":1,"s":"final","t":1,"v":80},{"col":4,"lam":1,"s":"final","t":2,"v":62},{"col":4,"lam":1,"s":"final","t":4,"v":88},{"col":4,"lam":1,"s":"final","t":6,"v":66},{"col":4,"lam":1,"s":"final","t":8,"v":78},{"col":4,"lam":1,"s":"final","t":9,"v":62},{"col":4,"lam":1,"s":"final","t":11,"v":90},{"col":4,"lam":1,"s":"final","t":13,"v":60},{"col":4,"lam":1,"s":"final","t":16,"v":56},{"col":4,"lam":1,"s":"final","t":20,"v":52},{"col":4,"lam":1,"s":"final","t":25,"v":48},{"col":4,"lam":1,"s":"final","t":30,"v":44},{"col":4,"lam":1,"s":"final","t":35,"v":40},{"col":4,"lam":1,"s":"final","t":38,"v":36},{"col":4,"lam":1,"s":"final","t":45,"v":38},{"col":4,"lam":1,"s":"final","t":50,"v":33},{"col":4,"lam":1,"s":"final","t":55,"v":38},{"col":4,"lam":1,"s":"final","t":60,"v":33},{"col":4,"lam":1,"s":"final","t":65,"v":38},{"col":4,"lam":1,"s":"final","t":70,"v":33},{"col":4,"lam":1,"s":"final","t":73,"v":37},{"col":4,"lam":1,"s":"final","t":75,"v":60},{"col":4,"lam":1,"s":"final","t":77,"v":74},{"col":4,"lam":1,"s":"final","t":79,"v":62},{"col":4,"lam":1,"s":"final","t":81,"v":80},{"col":4,"lam":1,"s":"final","t":83,"v":66},{"col":4,"lam":1,"s":"final","t":85,"v":84},{"col":4,"lam":1,"s":"final","t":87,"v":64},{"col":4,"lam":1,"s":"final","t":89,"v":78},{"col":4,"lam":1,"s":"final","t":91,"v":62},{"col":4,"lam":1,"s":"final","t":93,"v":86},{"col":4,"lam":1,"s":"final","t":95,"v":66},{"col":4,"lam":1,"s":"final","t":97,"v":76},{"col":4,"lam":1,"s":"final","t":99,"v":60},{"col":4,"lam":1,"s":"final","t":101,"v":82},{"col":4,"lam":1,"s":"final","t":103,"v":62},{"col":4,"lam":1,"s":"final","t":105,"v":72},{"col":4,"lam":1,"s":"final","t":107,"v":56},{"col":4,"lam":1,"s":"final","t":110,"v":52},{"col":4,"lam":1,"s":"final","t":114,"v":56},{"col":4,"lam":1,"s":"final","t":118,"v":50},{"col":4,"lam":1,"s":"final","t":122,"v":56},{"col":4,"lam":1,"s":"final","t":126,"v":50},{"col":4,"lam":1,"s":"final","t":130,"v":55},{"col":4,"lam":1,"s":"final","t":134,"v":49},{"col":4,"lam":1,"s":"final","t":138,"v":55},{"col":4,"lam":1,"s":"final","t":142,"v":48},{"col":4,"lam":1,"s":"final","t":146,"v":54},{"col":4,"lam":1,"s":"final","t":150,"v":48},{"col":4,"lam":1,"s":"final","t":152,"v":42},{"col":4,"lam":1,"s":"final","t":153,"v":38},{"col":4,"lam":1,"s":"final","t":158,"v":33},{"col":4,"lam":1,"s":"final","t":163,"v":38},{"col":4,"lam":1,"s":"final","t":168,"v":33},{"col":4,"lam":1,"s":"final","t":173,"v":38},{"col":4,"lam":1,"s":"final","t":178,"v":33},{"col":4,"lam":1,"s":"final","t":183,"v":38},{"col":4,"lam":1,"s":"final","t":188,"v":33},{"col":4,"lam":1,"s":"final","t":193,"v":38},{"col":4,"lam":1,"s":"final","t":197,"v":35},
{"col":4,"lam":1,"s":"transition","t":0,"v":52},{"col":4,"lam":1,"s":"transition","t":4,"v":54},{"col":4,"lam":1,"s":"transition","t":8,"v":50},{"col":4,"lam":1,"s":"transition","t":13,"v":49.3},{"col":4,"lam":1,"s":"transition","t":18,"v":47},{"col":4,"lam":1,"s":"transition","t":22,"v":46},{"col":4,"lam":1,"s":"transition","t":25.7,"v":44.3},{"col":4,"lam":1,"s":"transition","t":29,"v":42},{"col":4,"lam":1,"s":"transition","t":32,"v":39.3},{"col":4,"lam":1,"s":"transition","t":35,"v":36},{"col":4,"lam":1,"s":"transition","t":38,"v":34.3},{"col":4,"lam":1,"s":"transition","t":50,"v":34.5},{"col":4,"lam":1,"s":"transition","t":60,"v":34},{"col":4,"lam":1,"s":"transition","t":72,"v":34.3},{"col":4,"lam":1,"s":"transition","t":74,"v":38},{"col":4,"lam":1,"s":"transition","t":76,"v":52},{"col":4,"lam":1,"s":"transition","t":79,"v":58},{"col":4,"lam":1,"s":"transition","t":82,"v":52},{"col":4,"lam":1,"s":"transition","t":85,"v":57},{"col":4,"lam":1,"s":"transition","t":88,"v":50},{"col":4,"lam":1,"s":"transition","t":91,"v":59},{"col":4,"lam":1,"s":"transition","t":94,"v":51},{"col":4,"lam":1,"s":"transition","t":97,"v":55},{"col":4,"lam":1,"s":"transition","t":100,"v":49},{"col":4,"lam":1,"s":"transition","t":103,"v":54},{"col":4,"lam":1,"s":"transition","t":106,"v":50},{"col":4,"lam":1,"s":"transition","t":110,"v":47},{"col":4,"lam":1,"s":"transition","t":112.6,"v":49.3},{"col":4,"lam":1,"s":"transition","t":116,"v":46},{"col":4,"lam":1,"s":"transition","t":120,"v":48},{"col":4,"lam":1,"s":"transition","t":124,"v":45},{"col":4,"lam":1,"s":"transition","t":128,"v":47},{"col":4,"lam":1,"s":"transition","t":132,"v":44},{"col":4,"lam":1,"s":"transition","t":136,"v":47},{"col":4,"lam":1,"s":"transition","t":140,"v":44},{"col":4,"lam":1,"s":"transition","t":144,"v":46},{"col":4,"lam":1,"s":"transition","t":148,"v":43},{"col":4,"lam":1,"s":"transition","t":151,"v":44},{"col":4,"lam":1,"s":"transition","t":153,"v":37.7},{"col":4,"lam":1,"s":"transition","t":165,"v":36},{"col":4,"lam":1,"s":"transition","t":180,"v":36},{"col":4,"lam":1,"s":"transition","t":197,"v":36}
]},
"vconcat":[
{"width":972,"height":50,"layer":[
 {"data":{"values":[{"text":"main"}]},"mark":{"type":"text","font":"Open Sans","fontWeight":"bold","fontSize":22,"align":"right","baseline":"alphabetic","dx":5,"dy":14},"encoding":{"text":{"field":"text"}}},
 {"data":{"values":[{"text":"("}]},"mark":{"type":"text","font":"Liberation Serif","fontSize":32,"align":"left","baseline":"alphabetic","dx":13,"dy":17},"encoding":{"text":{"field":"text"}}},
 {"data":{"values":[{"text":"P"}]},"mark":{"type":"text","font":"Liberation Serif","fontWeight":"bold","fontSize":25,"align":"left","baseline":"alphabetic","dx":25,"dy":14},"encoding":{"text":{"field":"text"}}},
 {"data":{"values":[{"text":"(i)"}]},"mark":{"type":"text","font":"Liberation Serif","fontStyle":"italic","fontSize":15,"align":"left","baseline":"alphabetic","dx":42,"dy":5},"encoding":{"text":{"field":"text"}}},
 {"data":{"values":[{"text":")"}]},"mark":{"type":"text","font":"Liberation Serif","fontSize":32,"align":"left","baseline":"alphabetic","dx":62,"dy":17},"encoding":{"text":{"field":"text"}}}
]},
{"hconcat":[
 {"width":33,"height":60,"data":{"values":[]},"mark":"point"},
 {"width":200,"height":60,"data":{"name":"lines"},"transform":[{"filter":"datum.col == 1 && datum.s == 'main'"}],"mark":{"type":"line","color":"#4a4af2","strokeWidth":2.8,"strokeJoin":"round"},"encoding":{"x":{"field":"t","type":"quantitative","scale":{"domain":[-2,198],"nice":false,"zero":false},"axis":null},"y":{"field":"v","type":"quantitative","scale":{"domain":[0,60],"nice":false,"zero":false},"axis":null}}},
 {"width":200,"height":60,"data":{"name":"lines"},"transform":[{"filter":"datum.col == 2 && datum.s == 'main'"}],"mark":{"type":"line","color":"#4a4af2","strokeWidth":6,"strokeJoin":"round"},"encoding":{"x":{"field":"t","type":"quantitative","scale":{"domain":[-2,198],"nice":false,"zero":false},"axis":null},"y":{"field":"v","type":"quantitative","scale":{"domain":[0,60],"nice":false,"zero":false},"axis":null}}},
 {"width":200,"height":60,"data":{"name":"lines"},"transform":[{"filter":"datum.col == 3 && datum.s == 'main'"}],"mark":{"type":"line","color":"#4a4af2","strokeWidth":2.8,"strokeJoin":"round"},"encoding":{"x":{"field":"t","type":"quantitative","scale":{"domain":[-2,198],"nice":false,"zero":false},"axis":null},"y":{"field":"v","type":"quantitative","scale":{"domain":[0,60],"nice":false,"zero":false},"axis":null}}},
 {"width":199,"height":60,"data":{"name":"lines"},"transform":[{"filter":"datum.col == 4 && datum.s == 'main'"}],"mark":{"type":"line","color":"#4a4af2","strokeWidth":6,"strokeJoin":"round"},"encoding":{"x":{"field":"t","type":"quantitative","scale":{"domain":[-2,200],"nice":false,"zero":false},"axis":null},"y":{"field":"v","type":"quantitative","scale":{"domain":[0,60],"nice":false,"zero":false},"axis":null}}}
],"spacing":35},
{"width":972,"height":120,"layer":[
 {"data":{"values":[{"s":"initial"},{"s":"transition"},{"s":"final"}]},"mark":{"type":"text","font":"Liberation Serif","fontSize":19,"align":"left","baseline":"alphabetic","dx":-417},"encoding":{"y":{"field":"s","type":"nominal","sort":["initial","transition","final"],"scale":{"type":"point","range":[58,102],"padding":0},"axis":null},"text":{"field":"s"},"color":{"field":"s","type":"nominal","scale":{"domain":["initial","transition","final"],"range":["#5fa857","#b66dbb","#fdb53f"]},"legend":null}}},
 {"data":{"values":[{"text":"disaggregated"}]},"mark":{"type":"text","font":"Open Sans","fontWeight":"bold","fontSize":22,"align":"right","baseline":"alphabetic","dx":54,"dy":45},"encoding":{"text":{"field":"text"}}},
 {"data":{"values":[{"text":"("}]},"mark":{"type":"text","font":"Liberation Serif","fontSize":32,"align":"left","baseline":"alphabetic","dx":62,"dy":48},"encoding":{"text":{"field":"text"}}},
 {"data":{"values":[{"text":"p̂"}]},"mark":{"type":"text","font":"Liberation Serif","fontWeight":"bold","fontSize":25,"align":"left","baseline":"alphabetic","dx":75,"dy":44},"encoding":{"text":{"field":"text"}}},
 {"data":{"values":[{"text":"(i)"}]},"mark":{"type":"text","font":"Liberation Serif","fontStyle":"italic","fontSize":15,"align":"left","baseline":"alphabetic","dx":90,"dy":34},"encoding":{"text":{"field":"text"}}},
 {"data":{"values":[{"text":")"}]},"mark":{"type":"text","font":"Liberation Serif","fontSize":32,"align":"left","baseline":"alphabetic","dx":110,"dy":48},"encoding":{"text":{"field":"text"}}}
]},
{"hconcat":[
 {"vconcat":[
  {"width":68,"height":50,"data":{"values":[{"text":"λ"}]},"mark":{"type":"text","font":"Liberation Serif","fontStyle":"italic","fontSize":21,"align":"center","baseline":"alphabetic","dx":7,"dy":13},"encoding":{"text":{"field":"text"}}},
  {"hconcat":[
   {"width":46,"height":456,"data":{"values":[{"lam":0,"label":"0"},{"lam":0.25,"label":"0.25"},{"lam":0.5,"label":"0.50"},{"lam":0.75,"label":"0.75"},{"lam":1,"label":"1"}]},"mark":{"type":"text","font":"Liberation Serif","fontSize":19,"align":"right","baseline":"middle","dx":22.5},"encoding":{"y":{"field":"lam","type":"quantitative","scale":{"domain":[-0.0804,1.0653],"reverse":true,"nice":false,"zero":false},"axis":null},"text":{"field":"label"}}},
   {"width":22,"height":456,"data":{"values":[{"from":0.005,"to":1}]},"layer":[
    {"mark":{"type":"rule","color":"#e3e3e3","strokeWidth":8},"encoding":{"y":{"field":"from","type":"quantitative","scale":{"domain":[-0.0804,1.0653],"reverse":true,"nice":false,"zero":false},"axis":null},"y2":{"field":"to"}}},
    {"mark":{"type":"point","shape":"M -0.73 -1.53 L 0.73 -1.53 L 0 0.47 Z","size":900,"filled":true,"color":"#e3e3e3","opacity":1},"encoding":{"y":{"field":"to","type":"quantitative","scale":{"domain":[-0.0804,1.0653],"reverse":true,"nice":false,"zero":false},"axis":null}}}
   ]}
  ],"spacing":0}
 ],"spacing":0},
 {"hconcat":[
  {"vconcat":[
   {"width":200,"height":110,"layer":[
    {"data":{"name":"lines"},"transform":[{"filter":"datum.col == 1 && datum.lam == 0 && datum.s == 'initial'"}],"mark":{"type":"line","color":"#5ca352","strokeWidth":3.5,"strokeJoin":"round"},"encoding":{"x":{"field":"t","type":"quantitative","scale":{"domain":[-2,198],"nice":false,"zero":false},"axis":null},"y":{"field":"v","type":"quantitative","scale":{"domain":[0,110],"nice":false,"zero":false},"axis":null}}},
    {"data":{"name":"lines"},"transform":[{"filter":"datum.col == 1 && datum.lam == 0 && datum.s == 'transition'"}],"mark":{"type":"line","color":"#b855cc","strokeWidth":2.5,"strokeJoin":"round","blend":"multiply"},"encoding":{"x":{"field":"t","type":"quantitative"},"y":{"field":"v","type":"quantitative"}}},
    {"data":{"values":[{"text":"S"}]},"mark":{"type":"text","font":"Liberation Serif","fontStyle":"italic","fontSize":28,"align":"right","baseline":"alphabetic","dx":-57,"dy":-15},"encoding":{"text":{"field":"text"}}},
    {"data":{"values":[{"text":"washing machine"}]},"mark":{"type":"text","font":"Liberation Serif","fontSize":20,"align":"left","baseline":"alphabetic","dx":-56,"dy":-12},"encoding":{"text":{"field":"text"}}}
   ]},
   {"width":200,"height":99,"data":{"name":"lines"},"transform":[{"filter":"datum.col == 1 && datum.lam == 0.25"}],"mark":{"type":"line","color":"#b068b4","strokeWidth":2.6,"strokeJoin":"round"},"encoding":{"x":{"field":"t","type":"quantitative","scale":{"domain":[-2,198],"nice":false,"zero":false},"axis":null},"y":{"field":"v","type":"quantitative","scale":{"domain":[0,99],"nice":false,"zero":false},"axis":null}}},
   {"width":200,"height":99,"data":{"name":"lines"},"transform":[{"filter":"datum.col == 1 && datum.lam == 0.5"}],"mark":{"type":"line","color":"#b068b4","strokeWidth":2.6,"strokeJoin":"round"},"encoding":{"x":{"field":"t","type":"quantitative","scale":{"domain":[-2,198],"nice":false,"zero":false},"axis":null},"y":{"field":"v","type":"quantitative","scale":{"domain":[0,99],"nice":false,"zero":false},"axis":null}}},
   {"width":200,"height":99,"data":{"name":"lines"},"transform":[{"filter":"datum.col == 1 && datum.lam == 0.75"}],"mark":{"type":"line","color":"#b068b4","strokeWidth":1.8,"strokeJoin":"round"},"encoding":{"x":{"field":"t","type":"quantitative","scale":{"domain":[-2,198],"nice":false,"zero":false},"axis":null},"y":{"field":"v","type":"quantitative","scale":{"domain":[0,99],"nice":false,"zero":false},"axis":null}}},
   {"width":200,"height":99,"layer":[
    {"data":{"name":"lines"},"transform":[{"filter":"datum.col == 1 && datum.lam == 1 && datum.s == 'final'"}],"mark":{"type":"line","color":"#fdb240","strokeWidth":4,"strokeJoin":"round"},"encoding":{"x":{"field":"t","type":"quantitative","scale":{"domain":[-2,198],"nice":false,"zero":false},"axis":null},"y":{"field":"v","type":"quantitative","scale":{"domain":[0,99],"nice":false,"zero":false},"axis":null}}},
    {"data":{"name":"lines"},"transform":[{"filter":"datum.col == 1 && datum.lam == 1 && datum.s == 'transition'"}],"mark":{"type":"line","color":"#96345f","strokeWidth":2.4,"strokeJoin":"round"},"encoding":{"x":{"field":"t","type":"quantitative"},"y":{"field":"v","type":"quantitative"}}}
   ]},
   {"width":200,"height":48,"layer":[
    {"data":{"values":[{"text":"S"}]},"mark":{"type":"text","font":"Liberation Serif","fontStyle":"italic","fontSize":28,"align":"right","baseline":"alphabetic","dx":-37,"dy":14},"encoding":{"text":{"field":"text"}}},
    {"data":{"values":[{"text":"microwave"}]},"mark":{"type":"text","font":"Liberation Serif","fontSize":20,"align":"left","baseline":"alphabetic","dx":-36,"dy":19},"encoding":{"text":{"field":"text"}}}
   ]}
  ],"spacing":0},
  {"vconcat":[
   {"width":200,"height":110,"layer":[
    {"data":{"name":"lines"},"transform":[{"filter":"datum.col == 2 && datum.lam == 0 && datum.s == 'initial'"}],"mark":{"type":"line","color":"#5ca352","strokeWidth":5.5,"strokeJoin":"round"},"encoding":{"x":{"field":"t","type":"quantitative","scale":{"domain":[-2,198],"nice":false,"zero":false},"axis":null},"y":{"field":"v","type":"quantitative","scale":{"domain":[0,110],"nice":false,"zero":false},"axis":null}}},
    {"data":{"name":"lines"},"transform":[{"filter":"datum.col == 2 && datum.lam == 0 && datum.s == 'transition'"}],"mark":{"type":"line","color":"#b855cc","strokeWidth":2.5,"strokeJoin":"round","blend":"multiply"},"encoding":{"x":{"field":"t","type":"quantitative"},"y":{"field":"v","type":"quantitative"}}},
    {"data":{"values":[{"text":"S"}]},"mark":{"type":"text","font":"Liberation Serif","fontStyle":"italic","fontSize":28,"align":"right","baseline":"alphabetic","dx":-9,"dy":-15},"encoding":{"text":{"field":"text"}}},
    {"data":{"values":[{"text":"lifts"}]},"mark":{"type":"text","font":"Liberation Serif","fontSize":20,"align":"left","baseline":"alphabetic","dx":-8,"dy":-12},"encoding":{"text":{"field":"text"}}}
   ]},
   {"width":200,"height":99,"data":{"name":"lines"},"transform":[{"filter":"datum.col == 2 && datum.lam == 0.25"}],"mark":{"type":"line","color":"#b068b4","strokeWidth":2.6,"strokeJoin":"round"},"encoding":{"x":{"field":"t","type":"quantitative","scale":{"domain":[-2,198],"nice":false,"zero":false},"axis":null},"y":{"field":"v","type":"quantitative","scale":{"domain":[0,99],"nice":false,"zero":false},"axis":null}}},
   {"width":200,"height":99,"data":{"name":"lines"},"transform":[{"filter":"datum.col == 2 && datum.lam == 0.5"}],"mark":{"type":"line","color":"#b068b4","strokeWidth":2.6,"strokeJoin":"round"},"encoding":{"x":{"field":"t","type":"quantitative","scale":{"domain":[-2,198],"nice":false,"zero":false},"axis":null},"y":{"field":"v","type":"quantitative","scale":{"domain":[0,99],"nice":false,"zero":false},"axis":null}}},
   {"width":200,"height":99,"data":{"name":"lines"},"transform":[{"filter":"datum.col == 2 && datum.lam == 0.75"}],"mark":{"type":"line","color":"#b068b4","strokeWidth":2.8,"strokeJoin":"round"},"encoding":{"x":{"field":"t","type":"quantitative","scale":{"domain":[-2,198],"nice":false,"zero":false},"axis":null},"y":{"field":"v","type":"quantitative","scale":{"domain":[0,99],"nice":false,"zero":false},"axis":null}}},
   {"width":200,"height":99,"layer":[
    {"data":{"name":"lines"},"transform":[{"filter":"datum.col == 2 && datum.lam == 1 && datum.s == 'final'"}],"mark":{"type":"line","color":"#fdb240","strokeWidth":5,"strokeJoin":"round"},"encoding":{"x":{"field":"t","type":"quantitative","scale":{"domain":[-2,198],"nice":false,"zero":false},"axis":null},"y":{"field":"v","type":"quantitative","scale":{"domain":[0,99],"nice":false,"zero":false},"axis":null}}},
    {"data":{"name":"lines"},"transform":[{"filter":"datum.col == 2 && datum.lam == 1 && datum.s == 'transition'"}],"mark":{"type":"line","color":"#96345f","strokeWidth":2.8,"strokeJoin":"round"},"encoding":{"x":{"field":"t","type":"quantitative"},"y":{"field":"v","type":"quantitative"}}}
   ]},
   {"width":200,"height":48,"layer":[
    {"data":{"values":[{"text":"S"}]},"mark":{"type":"text","font":"Liberation Serif","fontStyle":"italic","fontSize":28,"align":"right","baseline":"alphabetic","dx":-18,"dy":14},"encoding":{"text":{"field":"text"}}},
    {"data":{"values":[{"text":"x−ray"}]},"mark":{"type":"text","font":"Liberation Serif","fontSize":20,"align":"left","baseline":"alphabetic","dx":-17,"dy":19},"encoding":{"text":{"field":"text"}}}
   ]}
  ],"spacing":0},
  {"hconcat":[
   {"vconcat":[
    {"width":215,"height":110,"layer":[
     {"data":{"name":"lines"},"transform":[{"filter":"datum.col == 3 && datum.lam == 0 && datum.s == 'initial'"}],"mark":{"type":"line","color":"#5ca352","strokeWidth":3.5,"strokeJoin":"round"},"encoding":{"x":{"field":"t","type":"quantitative","scale":{"domain":[-2,213],"nice":false,"zero":false},"axis":null},"y":{"field":"v","type":"quantitative","scale":{"domain":[0,110],"nice":false,"zero":false},"axis":null}}},
     {"data":{"name":"lines"},"transform":[{"filter":"datum.col == 3 && datum.lam == 0 && datum.s == 'transition'"}],"mark":{"type":"line","color":"#b855cc","strokeWidth":2.5,"strokeJoin":"round","blend":"multiply"},"encoding":{"x":{"field":"t","type":"quantitative"},"y":{"field":"v","type":"quantitative"}}},
     {"data":{"values":[{"text":"S"}]},"mark":{"type":"text","font":"Liberation Serif","fontStyle":"italic","fontSize":28,"align":"right","baseline":"alphabetic","dx":-34.5,"dy":-15},"encoding":{"text":{"field":"text"}}},
     {"data":{"values":[{"text":"washing machine"}]},"mark":{"type":"text","font":"Liberation Serif","fontSize":20,"align":"left","baseline":"alphabetic","dx":-33.5,"dy":-12},"encoding":{"text":{"field":"text"}}}
    ]},
    {"width":200,"height":99,"data":{"name":"lines"},"transform":[{"filter":"datum.col == 3 && datum.lam == 0.25"}],"mark":{"type":"line","color":"#b068b4","strokeWidth":2.6,"strokeJoin":"round"},"encoding":{"x":{"field":"t","type":"quantitative","scale":{"domain":[-2,198],"nice":false,"zero":false},"axis":null},"y":{"field":"v","type":"quantitative","scale":{"domain":[0,99],"nice":false,"zero":false},"axis":null}}},
    {"width":200,"height":99,"data":{"name":"lines"},"transform":[{"filter":"datum.col == 3 && datum.lam == 0.5"}],"mark":{"type":"line","color":"#b068b4","strokeWidth":2.6,"strokeJoin":"round"},"encoding":{"x":{"field":"t","type":"quantitative","scale":{"domain":[-2,198],"nice":false,"zero":false},"axis":null},"y":{"field":"v","type":"quantitative","scale":{"domain":[0,99],"nice":false,"zero":false},"axis":null}}},
    {"width":200,"height":99,"data":{"name":"lines"},"transform":[{"filter":"datum.col == 3 && datum.lam == 0.75"}],"mark":{"type":"line","color":"#b068b4","strokeWidth":1.8,"strokeJoin":"round"},"encoding":{"x":{"field":"t","type":"quantitative","scale":{"domain":[-2,198],"nice":false,"zero":false},"axis":null},"y":{"field":"v","type":"quantitative","scale":{"domain":[0,99],"nice":false,"zero":false},"axis":null}}},
    {"width":200,"height":99,"layer":[
     {"data":{"name":"lines"},"transform":[{"filter":"datum.col == 3 && datum.lam == 1 && datum.s == 'final'"}],"mark":{"type":"line","color":"#fdb240","strokeWidth":4,"strokeJoin":"round"},"encoding":{"x":{"field":"t","type":"quantitative","scale":{"domain":[-2,198],"nice":false,"zero":false},"axis":null},"y":{"field":"v","type":"quantitative","scale":{"domain":[0,99],"nice":false,"zero":false},"axis":null}}},
     {"data":{"name":"lines"},"transform":[{"filter":"datum.col == 3 && datum.lam == 1 && datum.s == 'transition'"}],"mark":{"type":"line","color":"#96345f","strokeWidth":2.4,"strokeJoin":"round"},"encoding":{"x":{"field":"t","type":"quantitative"},"y":{"field":"v","type":"quantitative"}}}
    ]},
    {"width":200,"height":48,"layer":[
     {"data":{"values":[{"text":"S"}]},"mark":{"type":"text","font":"Liberation Serif","fontStyle":"italic","fontSize":28,"align":"right","baseline":"alphabetic","dx":-8,"dy":14},"encoding":{"text":{"field":"text"}}},
     {"data":{"values":[{"text":"kettle"}]},"mark":{"type":"text","font":"Liberation Serif","fontStyle":"italic","fontSize":20,"align":"left","baseline":"alphabetic","dx":-7,"dy":19},"encoding":{"text":{"field":"text"}}}
    ]}
   ],"spacing":0},
   {"vconcat":[
    {"width":199,"height":110,"layer":[
     {"data":{"name":"lines"},"transform":[{"filter":"datum.col == 4 && datum.lam == 0 && datum.s == 'initial'"}],"mark":{"type":"line","color":"#5ca352","strokeWidth":4.5,"strokeJoin":"round"},"encoding":{"x":{"field":"t","type":"quantitative","scale":{"domain":[-2,200],"nice":false,"zero":false},"axis":null},"y":{"field":"v","type":"quantitative","scale":{"domain":[0,110],"nice":false,"zero":false},"axis":null}}},
     {"data":{"name":"lines"},"transform":[{"filter":"datum.col == 4 && datum.lam == 0 && datum.s == 'transition'"}],"mark":{"type":"line","color":"#b855cc","strokeWidth":2.5,"strokeJoin":"round","blend":"multiply"},"encoding":{"x":{"field":"t","type":"quantitative"},"y":{"field":"v","type":"quantitative"}}},
     {"data":{"values":[{"text":"S"}]},"mark":{"type":"text","font":"Liberation Serif","fontStyle":"italic","fontSize":28,"align":"right","baseline":"alphabetic","dx":-12.5,"dy":-15},"encoding":{"text":{"field":"text"}}},
     {"data":{"values":[{"text":"floors"}]},"mark":{"type":"text","font":"Liberation Serif","fontSize":20,"align":"left","baseline":"alphabetic","dx":-11.5,"dy":-12},"encoding":{"text":{"field":"text"}}}
    ]},
    {"width":199,"height":99,"data":{"name":"lines"},"transform":[{"filter":"datum.col == 4 && datum.lam == 0.25"}],"mark":{"type":"line","color":"#b068b4","strokeWidth":2.6,"strokeJoin":"round"},"encoding":{"x":{"field":"t","type":"quantitative","scale":{"domain":[-2,200],"nice":false,"zero":false},"axis":null},"y":{"field":"v","type":"quantitative","scale":{"domain":[0,99],"nice":false,"zero":false},"axis":null}}},
    {"width":199,"height":99,"data":{"name":"lines"},"transform":[{"filter":"datum.col == 4 && datum.lam == 0.5"}],"mark":{"type":"line","color":"#b068b4","strokeWidth":2.6,"strokeJoin":"round"},"encoding":{"x":{"field":"t","type":"quantitative","scale":{"domain":[-2,200],"nice":false,"zero":false},"axis":null},"y":{"field":"v","type":"quantitative","scale":{"domain":[0,99],"nice":false,"zero":false},"axis":null}}},
    {"width":199,"height":99,"data":{"name":"lines"},"transform":[{"filter":"datum.col == 4 && datum.lam == 0.75"}],"mark":{"type":"line","color":"#b068b4","strokeWidth":2.8,"strokeJoin":"round"},"encoding":{"x":{"field":"t","type":"quantitative","scale":{"domain":[-2,200],"nice":false,"zero":false},"axis":null},"y":{"field":"v","type":"quantitative","scale":{"domain":[0,99],"nice":false,"zero":false},"axis":null}}},
    {"width":199,"height":99,"layer":[
     {"data":{"name":"lines"},"transform":[{"filter":"datum.col == 4 && datum.lam == 1 && datum.s == 'final'"}],"mark":{"type":"line","color":"#fdb240","strokeWidth":4.5,"strokeJoin":"round"},"encoding":{"x":{"field":"t","type":"quantitative","scale":{"domain":[-2,200],"nice":false,"zero":false},"axis":null},"y":{"field":"v","type":"quantitative","scale":{"domain":[0,99],"nice":false,"zero":false},"axis":null}}},
     {"data":{"name":"lines"},"transform":[{"filter":"datum.col == 4 && datum.lam == 1 && datum.s == 'transition'"}],"mark":{"type":"line","color":"#96345f","strokeWidth":2.8,"strokeJoin":"round"},"encoding":{"x":{"field":"t","type":"quantitative"},"y":{"field":"v","type":"quantitative"}}}
    ]},
    {"width":199,"height":48,"layer":[
     {"data":{"values":[{"text":"S"}]},"mark":{"type":"text","font":"Liberation Serif","fontStyle":"italic","fontSize":28,"align":"right","baseline":"alphabetic","dx":-0.5,"dy":14},"encoding":{"text":{"field":"text"}}},
     {"data":{"values":[{"text":"x−ray"}]},"mark":{"type":"text","font":"Liberation Serif","fontSize":20,"align":"left","baseline":"alphabetic","dx":0.5,"dy":19},"encoding":{"text":{"field":"text"}}}
    ]}
   ],"spacing":0}
  ],"spacing":20}
 ],"spacing":35}
],"spacing":0}
]
}
